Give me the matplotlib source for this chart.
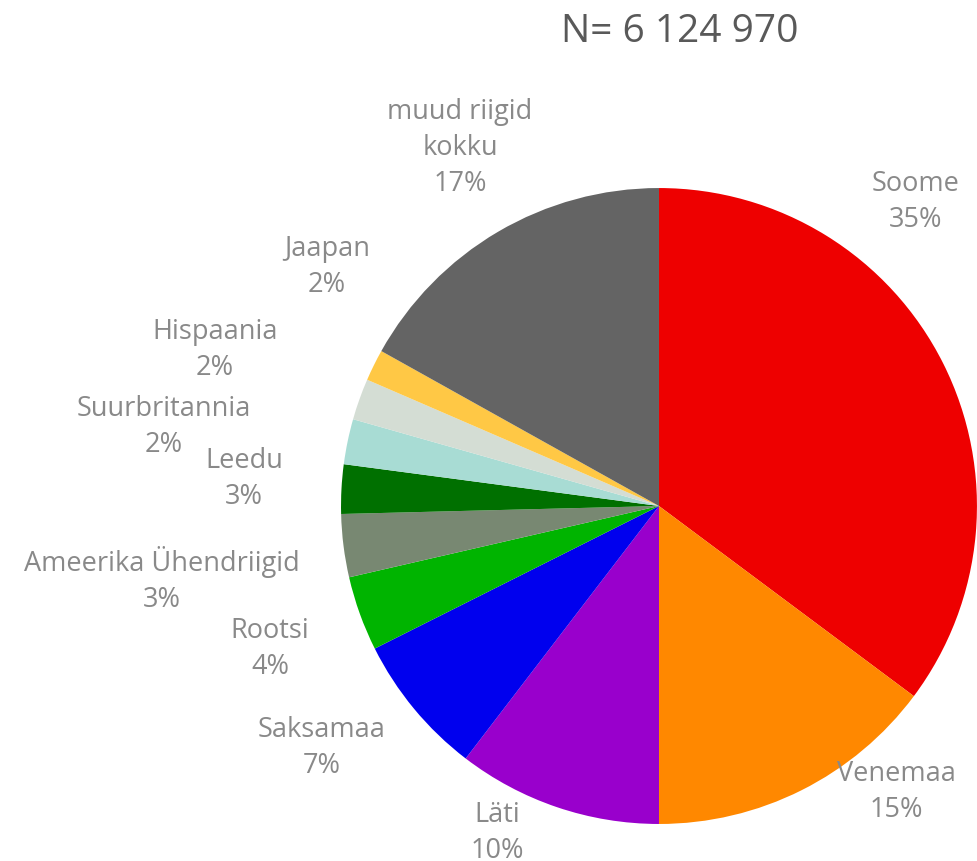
import matplotlib.pyplot as plt

# andmed
countries = ["Soome", "Venemaa", "Läti", "Saksamaa", "Rootsi", "Ameerika Ühendriigid",
             "Leedu", "Suurbritannia", "Hispaania", "Jaapan", "muud riigid\nkokku"]
shares = [35.2, 14.8, 10.4, 7.2, 3.8, 3.2, 2.5, 2.3, 2.1, 1.6, 16.9]
pct_labels = ["35%", "15%", "10%", "7%", "4%", "3%", "3%", "2%", "2%", "2%", "17%"]
total = "6 124 970"

colors = ["#EE0000", "#FF8800", "#9900CC", "#0000EE", "#00B400", "#788872",
          "#007000", "#A8DCD4", "#D4DDD4", "#FFC845", "#646464"]

# sildi asukohad (raadiuse ühikutes)
label_pos = [(0.808, 0.956), (0.748, -0.899), (-0.509, -1.028), (-1.060, -0.761),
             (-1.223, -0.450), (-1.563, -0.233), (-1.305, 0.085), (-1.557, 0.248),
             (-1.396, 0.491), (-1.044, 0.752), (-0.626, 1.126)]

plt.rcParams['font.family'] = ['Open Sans', 'DejaVu Sans']

fig = plt.figure(figsize=(9.77, 8.61), dpi=100)
ax = fig.add_axes([0.349, 0.043, 0.651, 0.7386])
ax.pie(shares, colors=colors, startangle=90, counterclock=False, radius=1,
       wedgeprops=dict(linewidth=0))
ax.set_xlim(-1, 1)
ax.set_ylim(-1, 1)
ax.set_aspect('equal')

for name, pct, (x, y) in zip(countries, pct_labels, label_pos):
    ax.text(x, y, name + "\n" + pct, ha='center', va='center', fontsize=19.5,
            color='#898989', linespacing=1.4, clip_on=False)

fig.text(0.696, 0.963, "N= " + total, ha='center', va='center', fontsize=28,
         color='#595959')

fig.savefig("out.png", dpi=100)
